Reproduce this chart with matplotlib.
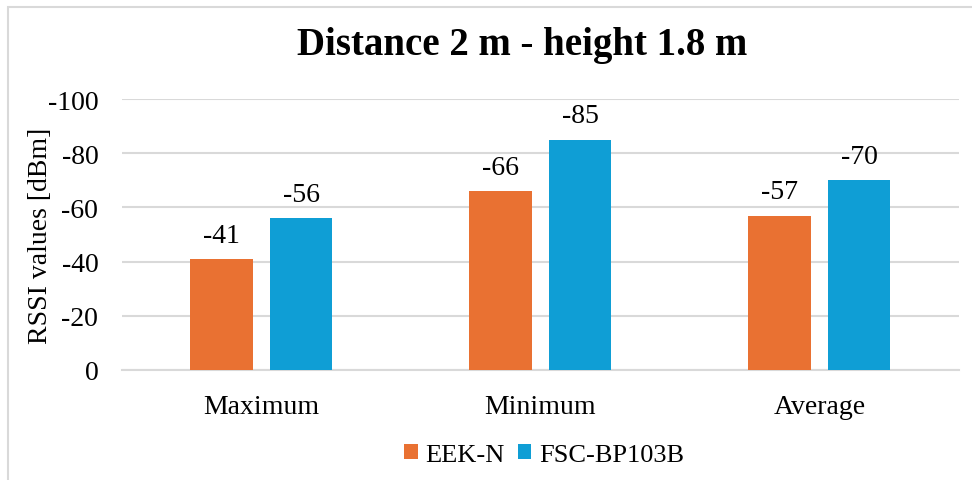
"""RSSI bar chart: distance 2 m, height 1.8 m."""

import matplotlib
matplotlib.use('Agg')
import matplotlib.pyplot as plt
from matplotlib.patches import Rectangle
import numpy as np

# Data
categories = ["Maximum", "Minimum", "Average"]
eek_n = [-41, -66, -57]
fsc_bp103b = [-56, -85, -70]
series_names = ["EEK-N", "FSC-BP103B"]
y_ticks = [0, -20, -40, -60, -80, -100]

COLORS = {
    "eek": "#E97132",
    "fsc": "#0F9ED5",
    "grid": "#D9D9D9",
    "text": "#000000",
}

FS = 20

plt.rcParams['font.family'] = ['Liberation Serif', 'DejaVu Serif']

fig = plt.figure(figsize=(9.72, 4.81), dpi=100)
ax = fig.add_axes([0.1255, 0.2287, 0.861, 0.5633])

# Outer chart frame (open on right and bottom)
fig.add_artist(Rectangle((7.5 / 972, -0.1), 1.2, 1 - 7.5 / 481 + 0.1,
                         transform=fig.transFigure, fill=False,
                         edgecolor=COLORS["grid"], linewidth=1.5))

x = np.arange(len(categories))
bar_w = 0.225
offset = 0.142

bars1 = ax.bar(x - offset, eek_n, bar_w, color=COLORS["eek"], label=series_names[0], zorder=3)
bars2 = ax.bar(x + offset, fsc_bp103b, bar_w, color=COLORS["fsc"], label=series_names[1], zorder=3)

for bars, vals in ((bars1, eek_n), (bars2, fsc_bp103b)):
    for b, v in zip(bars, vals):
        ax.text(b.get_x() + b.get_width() / 2, v - 4.2, f"{v}", ha='center', va='bottom',
                fontsize=FS, color=COLORS["text"], zorder=4)

ax.set_xlim(-0.5, 2.5)
ax.set_ylim(0, -100)
ax.set_yticks(y_ticks)
ax.set_yticklabels([str(t) for t in y_ticks], fontsize=FS)
ax.set_xticks(x)
ax.set_xticklabels(categories, fontsize=FS)
ax.tick_params(axis='y', length=0, pad=17)
ax.tick_params(axis='x', length=0, pad=17)

ax.yaxis.grid(True, color=COLORS["grid"], linewidth=1.5, zorder=0)
ax.set_axisbelow(True)
for s in ['top', 'right', 'left']:
    ax.spines[s].set_visible(False)
ax.spines['bottom'].set_color(COLORS["grid"])
ax.spines['bottom'].set_linewidth(1.5)

ax.set_ylabel("RSSI values [dBm]", fontsize=FS, labelpad=-4)
fig.text(0.537, 0.905, "Distance 2 m - height 1.8 m", ha='center', va='center',
         fontsize=28, fontweight='bold')

fig.legend(loc='center', bbox_to_anchor=(0.56, 0.052), ncol=2, frameon=False,
           fontsize=19, handlelength=0.5, handleheight=0.5, handletextpad=0.3,
           columnspacing=0.5)

fig.savefig("out.png", dpi=100, facecolor='white')
